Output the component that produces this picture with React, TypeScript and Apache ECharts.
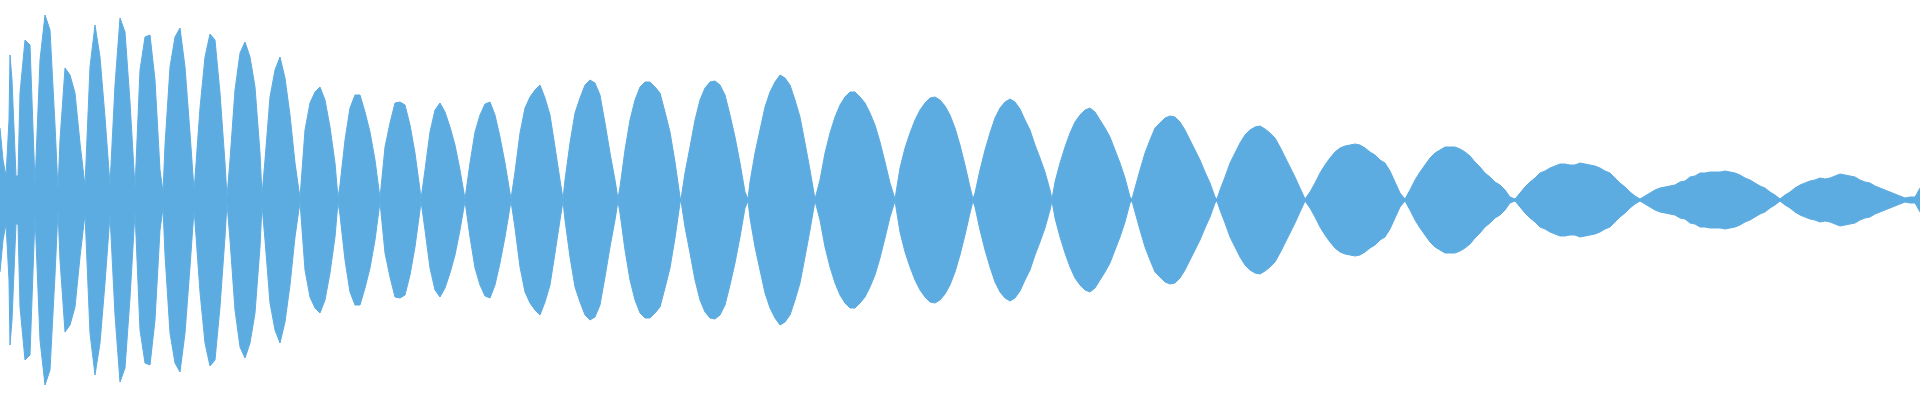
import React, { useEffect, useRef } from "react";
import * as echarts from "echarts";

// Waveform envelope: [frame, amplitude %] pairs
const segA: [number, number][] = [
  [0, 36], [3, 20], [6, 12], [9, 40], [10, 72.5], [12, 60], [14, 36], [16, 12], [18, 12], [20, 53.5],
  [25, 80], [30, 77.5], [35, 8], [40, 70], [45, 92.5], [50, 85], [55, 37.5], [58, 5], [60, 30], [65, 66],
  [70, 62.5], [75, 53.5], [80, 28.5], [85, 7], [90, 66.5], [95, 87.5], [100, 71.5], [105, 41.5], [110, 7.5],
  [115, 57.5], [120, 91], [125, 84], [130, 49], [135, 6], [140, 65], [145, 81.5], [150, 82.5], [155, 60],
  [160, 15], [163, 4], [165, 27.5], [170, 66.5], [175, 81.5], [180, 86], [185, 66.5], [190, 33.5], [194, 5],
  [195, 11], [200, 46], [205, 71.5], [210, 83], [215, 80], [220, 53.5], [225, 18.5], [227, 1.5], [230, 20],
  [235, 55], [240, 73.5], [245, 79], [250, 71.5], [255, 56.5], [260, 23.5], [262, 2.5], [265, 20], [270, 51.5],
  [275, 65], [280, 71.5], [285, 61], [290, 42.5], [295, 18.5], [300, 1], [305, 35], [310, 48.5], [315, 54],
  [320, 56.5], [325, 50], [330, 36.5], [335, 18.5], [338, 1], [340, 7.5], [345, 30], [350, 46], [355, 52.5],
  [360, 52.5], [365, 44], [370, 34], [375, 20], [380, 1], [385, 26.5], [390, 38.5], [395, 48.5],
];

const segB: [number, number][] = [
  [400, 49], [405, 47.5], [410, 37.5], [415, 23.5], [420, 5], [421, 0.5], [425, 15], [430, 34], [435, 45],
  [440, 48.5], [445, 44], [450, 36.5], [455, 27.5], [460, 15], [465, 0.5], [470, 18.5], [475, 34], [480, 42.5],
  [485, 48], [490, 49], [495, 42.5], [500, 31.5], [505, 18.5], [510, 3.5], [511, 0.5], [515, 14], [520, 33.5],
  [525, 46], [530, 51.5], [535, 55], [540, 57.5], [545, 51], [550, 42.5], [555, 26.5], [560, 10], [563, 0.5],
  [565, 10], [570, 28.5], [575, 43.5], [580, 51], [585, 57.5], [590, 60], [595, 58.5], [600, 52.5], [605, 38.5],
  [610, 23.5], [615, 10], [618, 0.5], [620, 6.5], [625, 25], [630, 40], [635, 50], [640, 56.5], [645, 59],
  [650, 59], [655, 56.5], [660, 53.5], [665, 44], [670, 34], [675, 19], [680, 1.5], [681, 0.5], [685, 13.5],
  [690, 26.5], [695, 40], [700, 50], [705, 56], [710, 59], [715, 59.5], [720, 57.5], [725, 52.5], [730, 42.5],
  [735, 31.5], [740, 18.5], [745, 4], [748, 0.5], [750, 9], [755, 23.5], [760, 35], [765, 46.5], [770, 54],
  [775, 59], [780, 62.5], [785, 61], [790, 57.5], [795, 50],
];

const segC: [number, number][] = [
  [800, 41.5], [805, 28.5], [810, 15], [815, 0.5], [820, 10], [825, 23.5], [830, 33.5], [835, 41.5], [840, 47.5],
  [845, 51.5], [850, 54], [855, 54], [860, 51.5], [865, 48.5], [870, 43.5], [875, 37.5], [880, 29], [885, 19],
  [890, 8.5], [895, 0.5], [900, 16], [905, 26], [910, 33.5], [915, 40], [920, 45], [925, 48.5], [930, 51],
  [935, 51.5], [940, 50], [945, 47], [950, 42.5], [955, 36], [960, 27.5], [965, 17.5], [970, 6.5], [973, 0.5],
  [975, 3.5], [980, 15], [985, 25], [990, 33.5], [995, 41], [1000, 46], [1005, 49], [1010, 50.5], [1015, 49],
  [1020, 45.5], [1025, 40], [1030, 35], [1035, 27.5], [1040, 21], [1045, 14], [1050, 5], [1052, 0.5], [1055, 9],
  [1060, 18.5], [1065, 26.5], [1070, 33.5], [1075, 39], [1080, 42.5], [1085, 45], [1090, 46], [1095, 44],
  [1100, 40], [1105, 36], [1110, 31.5], [1115, 25], [1120, 18.5], [1125, 11], [1130, 1.5], [1132, 0.5],
  [1135, 6], [1140, 15], [1145, 23.5], [1150, 30], [1155, 36], [1160, 38.5], [1165, 41], [1170, 42],
  [1175, 41.5], [1180, 39], [1185, 35], [1190, 30], [1195, 25],
];

const segD: [number, number][] = [
  [1200, 20], [1205, 14], [1210, 8.5], [1215, 1.5], [1217, 0.5], [1220, 5], [1225, 11.5], [1230, 18.5],
  [1235, 23.5], [1240, 28.5], [1245, 32.5], [1250, 35], [1255, 36.5], [1260, 37], [1265, 35.5], [1270, 33.5],
  [1275, 31], [1280, 26.5], [1285, 21.5], [1290, 16.5], [1295, 11.5], [1300, 6], [1305, 0.5], [1310, 4],
  [1315, 8.5], [1320, 13.5], [1325, 17.5], [1330, 21], [1335, 24], [1340, 26], [1345, 27], [1350, 27.5],
  [1355, 28], [1360, 27.5], [1365, 26], [1370, 24], [1375, 22.5], [1380, 20], [1385, 18.5], [1390, 14.5],
  [1395, 9], [1400, 3.5], [1405, 0.5], [1410, 5], [1415, 10], [1420, 14], [1425, 17.5], [1430, 21],
  [1435, 23.5], [1440, 25], [1445, 26.5], [1450, 26.5], [1455, 26.5], [1460, 25.5], [1465, 24], [1470, 22],
  [1475, 19], [1480, 16.5], [1485, 13.5], [1490, 11.5], [1495, 9], [1500, 7.5], [1505, 5], [1510, 1.5],
  [1515, 0.5], [1520, 3.5], [1525, 6.5], [1530, 9], [1535, 11], [1540, 13.5], [1545, 14.5], [1550, 16],
  [1555, 17], [1560, 18], [1565, 18], [1570, 17.5], [1575, 17.5], [1580, 18.5], [1585, 18], [1590, 17.5],
  [1595, 17],
];

const segE: [number, number][] = [
  [1600, 16], [1605, 14.5], [1610, 13.5], [1615, 11], [1620, 8.5], [1625, 6.5], [1630, 4], [1635, 2],
  [1640, 0.5], [1645, 2], [1650, 3.5], [1655, 5], [1660, 6], [1665, 6.5], [1670, 7], [1675, 7.5], [1680, 9],
  [1685, 9.5], [1690, 11.5], [1695, 12], [1700, 13.5], [1705, 13.5], [1710, 14], [1715, 14], [1720, 14],
  [1725, 14.5], [1730, 14], [1735, 13.5], [1740, 12.5], [1745, 11], [1750, 10], [1755, 8.5], [1760, 7],
  [1765, 6], [1770, 4], [1775, 2.5], [1780, 0.5], [1785, 2.5], [1790, 4], [1795, 6], [1800, 7.5], [1805, 8.5],
  [1810, 9.5], [1815, 10], [1820, 11], [1825, 10.5], [1830, 11], [1835, 12], [1840, 13], [1845, 12.5],
  [1850, 12], [1855, 11.5], [1860, 10], [1865, 9], [1870, 8.5], [1875, 7], [1880, 6], [1885, 5], [1890, 4],
  [1895, 3], [1900, 2], [1905, 1], [1910, 1.5], [1915, 1.5], [1920, 6],
];

const WAVE_COLOR = "#5DACE1";

export default function App() {
  const ref = useRef<HTMLDivElement>(null);
  useEffect(() => {
    if (!ref.current) return;
    const chart = echarts.init(ref.current, null, { renderer: "svg" });
    const envelope = [...segA, ...segB, ...segC, ...segD, ...segE];
    const upper = envelope.map(([f, a]) => [f, a]);
    const lower = envelope.map(([f, a]) => [f, -a]);
    const common = {
      type: "line" as const,
      showSymbol: false,
      symbol: "none",
      silent: true,
      lineStyle: { width: 1, color: WAVE_COLOR },
      areaStyle: { color: WAVE_COLOR, opacity: 1 },
    };
    chart.setOption({
      animation: false,
      grid: { left: 0, right: 0, top: 0, bottom: 0 },
      xAxis: { type: "value", min: 0, max: 1920, show: false },
      yAxis: { type: "value", min: -100, max: 100, show: false },
      series: [
        { ...common, name: "upper", data: upper },
        { ...common, name: "lower", data: lower },
      ],
    });
    return () => chart.dispose();
  }, []);
  return (
    <div
      ref={ref}
      style={{ position: "fixed", left: 0, top: 0, width: 1920, height: 400, background: "#fff" }}
    />
  );
}
